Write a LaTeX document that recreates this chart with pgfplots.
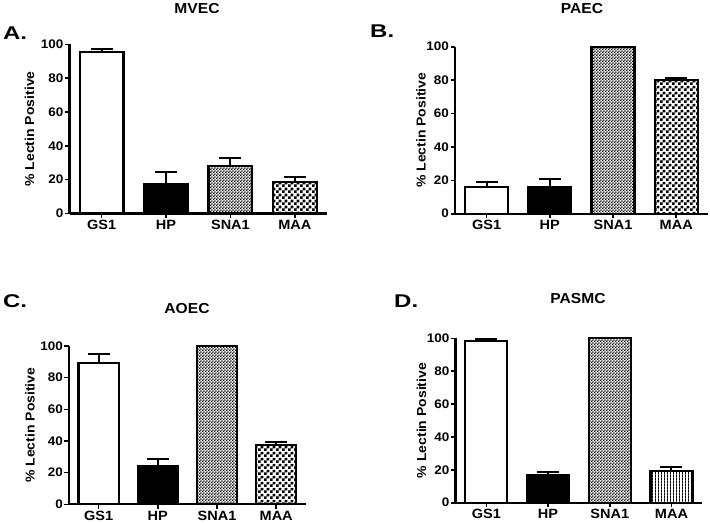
\documentclass[border=0pt]{standalone}
\usepackage{fontspec}
\setmainfont{Liberation Sans}[FakeStretch=1.08]
\newfontfamily\letterfont{Liberation Sans}[FakeStretch=1.3]
\usepackage{pgfplots}
\pgfplotsset{compat=1.18}
\usetikzlibrary{patterns}

\pgfdeclarepatternformonly{checkfine}{\pgfqpoint{0bp}{0bp}}{\pgfqpoint{2.8bp}{2.8bp}}{\pgfqpoint{2.8bp}{2.8bp}}{%
  \pgfpathrectangle{\pgfqpoint{0bp}{0bp}}{\pgfqpoint{1.4bp}{1.4bp}}%
  \pgfpathrectangle{\pgfqpoint{1.4bp}{1.4bp}}{\pgfqpoint{1.4bp}{1.4bp}}%
  \pgfusepath{fill}}
\pgfdeclarepatternformonly{checkcoarse}{\pgfqpoint{0bp}{0bp}}{\pgfqpoint{6bp}{6bp}}{\pgfqpoint{6bp}{6bp}}{%
  \pgfpathrectangle{\pgfqpoint{0bp}{0bp}}{\pgfqpoint{3bp}{3bp}}%
  \pgfpathrectangle{\pgfqpoint{3bp}{3bp}}{\pgfqpoint{3bp}{3bp}}%
  \pgfusepath{fill}}
\pgfdeclarepatternformonly{vlines}{\pgfqpoint{0bp}{0bp}}{\pgfqpoint{2.8bp}{2.8bp}}{\pgfqpoint{2.8bp}{2.8bp}}{%
  \pgfpathrectangle{\pgfqpoint{0bp}{0bp}}{\pgfqpoint{1bp}{2.8bp}}%
  \pgfusepath{fill}}

\pgfplotsset{
  panel/.style={
    scale only axis,
    anchor=south west,
    ymin=0, ymax=100,
    xmin=-0.5, xmax=3.5,
    ytick={0,20,40,60,80,100},
    xtick={0,1,2,3},
    xticklabels={GS1,HP,SNA1,MAA},
    axis x line*=bottom, axis y line*=left,
    axis line style={line width=2.3bp, -},
    tick style={line width=1.6bp, black},
    major tick length=4.5bp,
    tick align=outside,
    /pgf/number format/assume math mode=true,
    yticklabel style={font=\fontsize{12.5}{13}\selectfont\bfseries, inner sep=1.5bp},
    xticklabel style={font=\fontsize{13.5}{14}\selectfont\bfseries, inner sep=2bp},
    ylabel={\% Lectin Positive},
    every axis y label/.style={rotate=90, anchor=center, font=\fontsize{13}{14}\selectfont\bfseries},
    ybar, bar width=0.68, bar shift=0pt,
    clip=false,
    every axis plot/.append style={draw=black, line width=2.2bp,
      error bars/y dir=plus, error bars/y explicit,
      error bars/error bar style={line width=2bp, black},
      error bars/error mark options={rotate=90, mark size=11bp, line width=2.2bp, black}},
  }
}

\begin{document}
\begin{tikzpicture}
\path[use as bounding box] (0bp,0bp) rectangle (710bp,-523bp);

% Panel A: MVEC
\begin{axis}[panel, at={(69.5bp,-213.5bp)}, width=257.5bp, height=169.2bp,
  every axis y label/.append style={at={([xshift=-40bp]axis description cs:0,0.5)}}]
\addplot[fill=white] coordinates {(0,95.3) +- (0,1.8)};
\addplot[fill=black] coordinates {(1,17.5) +- (0,6.9)};
\addplot[pattern=checkfine, pattern color=black] coordinates {(2,28.3) +- (0,4.4)};
\addplot[pattern=checkcoarse, pattern color=black] coordinates {(3,18.7) +- (0,3.0)};
\end{axis}

% Panel B: PAEC
\begin{axis}[panel, at={(455bp,-213.7bp)}, width=252.8bp, height=167bp,
  every axis y label/.append style={at={([xshift=-34bp]axis description cs:0,0.5)}}]
\addplot[fill=white] coordinates {(0,16.2) +- (0,2.8)};
\addplot[fill=black] coordinates {(1,15.8) +- (0,5.0)};
\addplot[pattern=checkfine, pattern color=black] coordinates {(2,100) +- (0,0)};
\addplot[pattern=checkcoarse, pattern color=black] coordinates {(3,80.1) +- (0,1.0)};
\end{axis}

% Panel C: AOEC
\begin{axis}[panel, at={(69bp,-504.3bp)}, width=236.8bp, height=158.3bp,
  every axis y label/.append style={at={([xshift=-39bp]axis description cs:0,0.5)}}]
\addplot[fill=white] coordinates {(0,89.1) +- (0,5.7)};
\addplot[fill=black] coordinates {(1,24.2) +- (0,4.2)};
\addplot[pattern=checkfine, pattern color=black] coordinates {(2,100) +- (0,0)};
\addplot[pattern=checkcoarse, pattern color=black] coordinates {(3,37.5) +- (0,1.9)};
\end{axis}

% Panel D: PASMC
\begin{axis}[panel, at={(455.5bp,-502.7bp)}, width=246.8bp, height=164.4bp,
  every axis y label/.append style={at={([xshift=-34bp]axis description cs:0,0.5)}}]
\addplot[fill=white] coordinates {(0,98.4) +- (0,1.4)};
\addplot[fill=black] coordinates {(1,16.9) +- (0,2.0)};
\addplot[pattern=checkfine, pattern color=black] coordinates {(2,100) +- (0,0)};
\addplot[pattern=vlines, pattern color=black] coordinates {(3,19.3) +- (0,2.6)};
\end{axis}

% Titles
\node[font=\fontsize{14.5}{15}\selectfont\bfseries, inner sep=0] at (197bp,-9bp) {MVEC};
\node[font=\fontsize{14.5}{15}\selectfont\bfseries, inner sep=0] at (582bp,-8.5bp) {PAEC};
\node[font=\fontsize{14.5}{15}\selectfont\bfseries, inner sep=0] at (187bp,-309bp) {AOEC};
\node[font=\fontsize{14.5}{15}\selectfont\bfseries, inner sep=0] at (578bp,-299bp) {PASMC};
% Panel letters
\node[font=\fontsize{18.5}{19}\selectfont\letterfont\bfseries, inner sep=0, anchor=west] at (3bp,-32.7bp) {A.};
\node[font=\fontsize{18.5}{19}\selectfont\letterfont\bfseries, inner sep=0, anchor=west] at (370bp,-31bp) {B.};
\node[font=\fontsize{18.5}{19}\selectfont\letterfont\bfseries, inner sep=0, anchor=west] at (3bp,-301bp) {C.};
\node[font=\fontsize{18.5}{19}\selectfont\letterfont\bfseries, inner sep=0, anchor=west] at (394bp,-301bp) {D.};
\end{tikzpicture}
\end{document}
